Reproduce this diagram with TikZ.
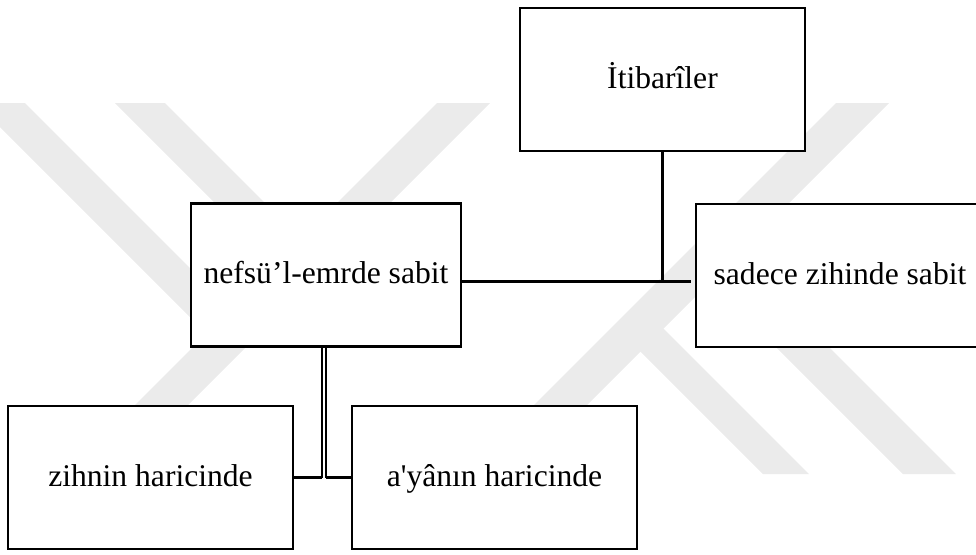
\documentclass[tikz,border=0pt]{standalone}
\usepackage{fontspec}
\setmainfont{Liberation Serif}[Ligatures=TeXOff]
\usetikzlibrary{positioning}

\begin{document}
\begin{tikzpicture}[x=0.5pt, y=-0.5pt,
    box/.style={draw, fill=white, line width=1.25pt, minimum width=142.5pt, minimum height=71.5pt,
        inner sep=0pt, text height=8.8pt, text depth=0pt, font=\fontsize{15.8}{19}\selectfont},
    link/.style={line width=1.2pt},
    wmark/.style={fill=black!8}]
    \useasboundingbox (0,0) rectangle (976,554);

    % Watermark stripes
    \fill[wmark] (437,103) -- (490,103) -- (119,474) -- (66,474) -- cycle;
    \fill[wmark] (836,103) -- (889,103) -- (518,474) -- (465,474) -- cycle;
    \fill[wmark] (-24,103) -- (25,103) -- (244.25,322.25) -- (219.75,346.75) -- cycle;
    \fill[wmark] (115,103) -- (165,103) -- (314.25,252.25) -- (289.25,277.25) -- cycle;
    \fill[wmark] (650.25,315.25) -- (809,474) -- (763,474) -- (627.25,338.25) -- cycle;
    \fill[wmark] (723.75,241.75) -- (956,474) -- (903,474) -- (697.25,268.25) -- cycle;

    % Boxes
    \node[box] (itibari) at (662.5,79.5) {İtibarîler};
    \node[box, minimum width=135pt] (nefsu) at (326,275) {nefsü’l-emrde sabit};
    \node[box, minimum width=144pt] (sadece) at (840,275.5) {sadece zihinde sabit};
    \node[box] (zihnin) at (150.5,477.5) {zihnin haricinde};
    \node[box] (ayan) at (494.5,477.5) {a'yânın haricinde};

    % Upper branch
    \coordinate (joint) at ([yshift=-3.25pt]nefsu.east);
    \coordinate (gap) at ([xshift=-2pt]sadece.west);
    \draw[link] (joint) -- (joint -| gap);
    \draw[link] (itibari.south) -- (itibari.south |- joint);

    % Lower branch
    \coordinate (fork) at ([xshift=-1pt]nefsu.south);
    \coordinate (forkL) at ([xshift=-0.9pt]fork);
    \coordinate (forkR) at ([xshift=0.9pt]fork);
    \draw[line width=0.85pt, double, double distance=0.95pt] (fork) -- (fork |- zihnin.east);
    \draw[link] (zihnin.east) -- (forkL |- zihnin.east);
    \draw[link] (forkR |- zihnin.east) -- (ayan.west);
\end{tikzpicture}
\end{document}
